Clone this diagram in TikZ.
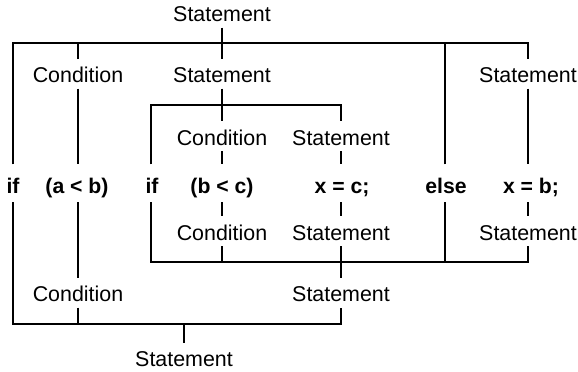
\documentclass[tikz,border=0pt]{standalone}
\usepackage{fontspec}
\setmainfont{Liberation Sans}
\usetikzlibrary{positioning}

\begin{document}
\begin{tikzpicture}[x=1bp, y=-1bp, line width=1.2bp,
		cat/.style={anchor=base, inner xsep=0pt, inner ysep=5.4bp, text height=17.6bp, text depth=0pt,
			font=\fontsize{21.4bp}{25bp}\selectfont},
		tok/.style={anchor=base, inner xsep=0pt, inner ysep=8.2bp, text height=20.3bp, text depth=0pt,
			font=\fontsize{21.2bp}{25bp}\selectfont\bfseries}]
		\useasboundingbox (0,0) rectangle (578,371);

		% the sentence
		\draw (13,193.5) node [tok] (if1) {if};
		\draw (77,193.5) node [tok] (ab) {(a < b)};
		\draw (152,193.5) node [tok] (if2) {if};
		\draw (222,193.5) node [tok] (bc) {(b < c)};
		\draw (342,193.5) node [tok] (xc) {x = c;};
		\draw (446,193.5) node [tok] (else) {else};
		\draw (531,193.5) node [tok] (xb) {x = b;};

		% upper tree
		\draw (222,21.7) node [cat] (s0) {Statement};
		\draw (78,82.7) node [cat] (c1) {Condition};
		\draw (222,82.7) node [cat] (s1) {Statement};
		\draw (528,82.7) node [cat] (s2) {Statement};
		\draw (222,145) node [cat] (c2) {Condition};
		\draw (341,145) node [cat] (s3) {Statement};
		\coordinate (b1) at (222,43);
		\coordinate (b2) at (222,105);

		\draw (13,0 |- if1.north) |- (b1) -| (s2.north);
		\draw (151,0 |- if2.north) |- (b2) -| (s3.north);
		\draw
		(s0) edge (s1)
		(s1) edge (c2)
		(c1.north) edge (c1.north |- b1)
		(445,0 |- else.north) edge (445,0 |- b1)
		(c1) edge (c1.south |- ab.north)
		(s2) edge (s2.south |- xb.north)
		(c2) edge (bc)
		(s3) edge (s3.south |- xc.north);

		% lower tree
		\draw (222,240) node [cat] (c3) {Condition};
		\draw (341,240) node [cat] (s4) {Statement};
		\draw (528,240) node [cat] (s5) {Statement};
		\draw (78,301.7) node [cat] (c4) {Condition};
		\draw (341,301.7) node [cat] (s6) {Statement};
		\draw (184,366.7) node [cat] (s7) {Statement};
		\coordinate (b3) at (341,262);
		\coordinate (b4) at (184,324);

		\draw (151,0 |- if2.south) |- (b3) -| (s5.south);
		\draw (13,0 |- if1.south) |- (b4) -| (s6.south);
		\draw
		(s4) edge (s6)
		(bc) edge (c3)
		(xc.south -| s4) edge (s4)
		(xb.south -| s5) edge (s5)
		(ab.south -| c4) edge (c4)
		(c3.south) edge (c3.south |- b3)
		(445,0 |- else.south) edge (445,0 |- b3)
		(c4.south) edge (c4.south |- b4)
		(b4) edge (s7);
	\end{tikzpicture}
\end{document}
